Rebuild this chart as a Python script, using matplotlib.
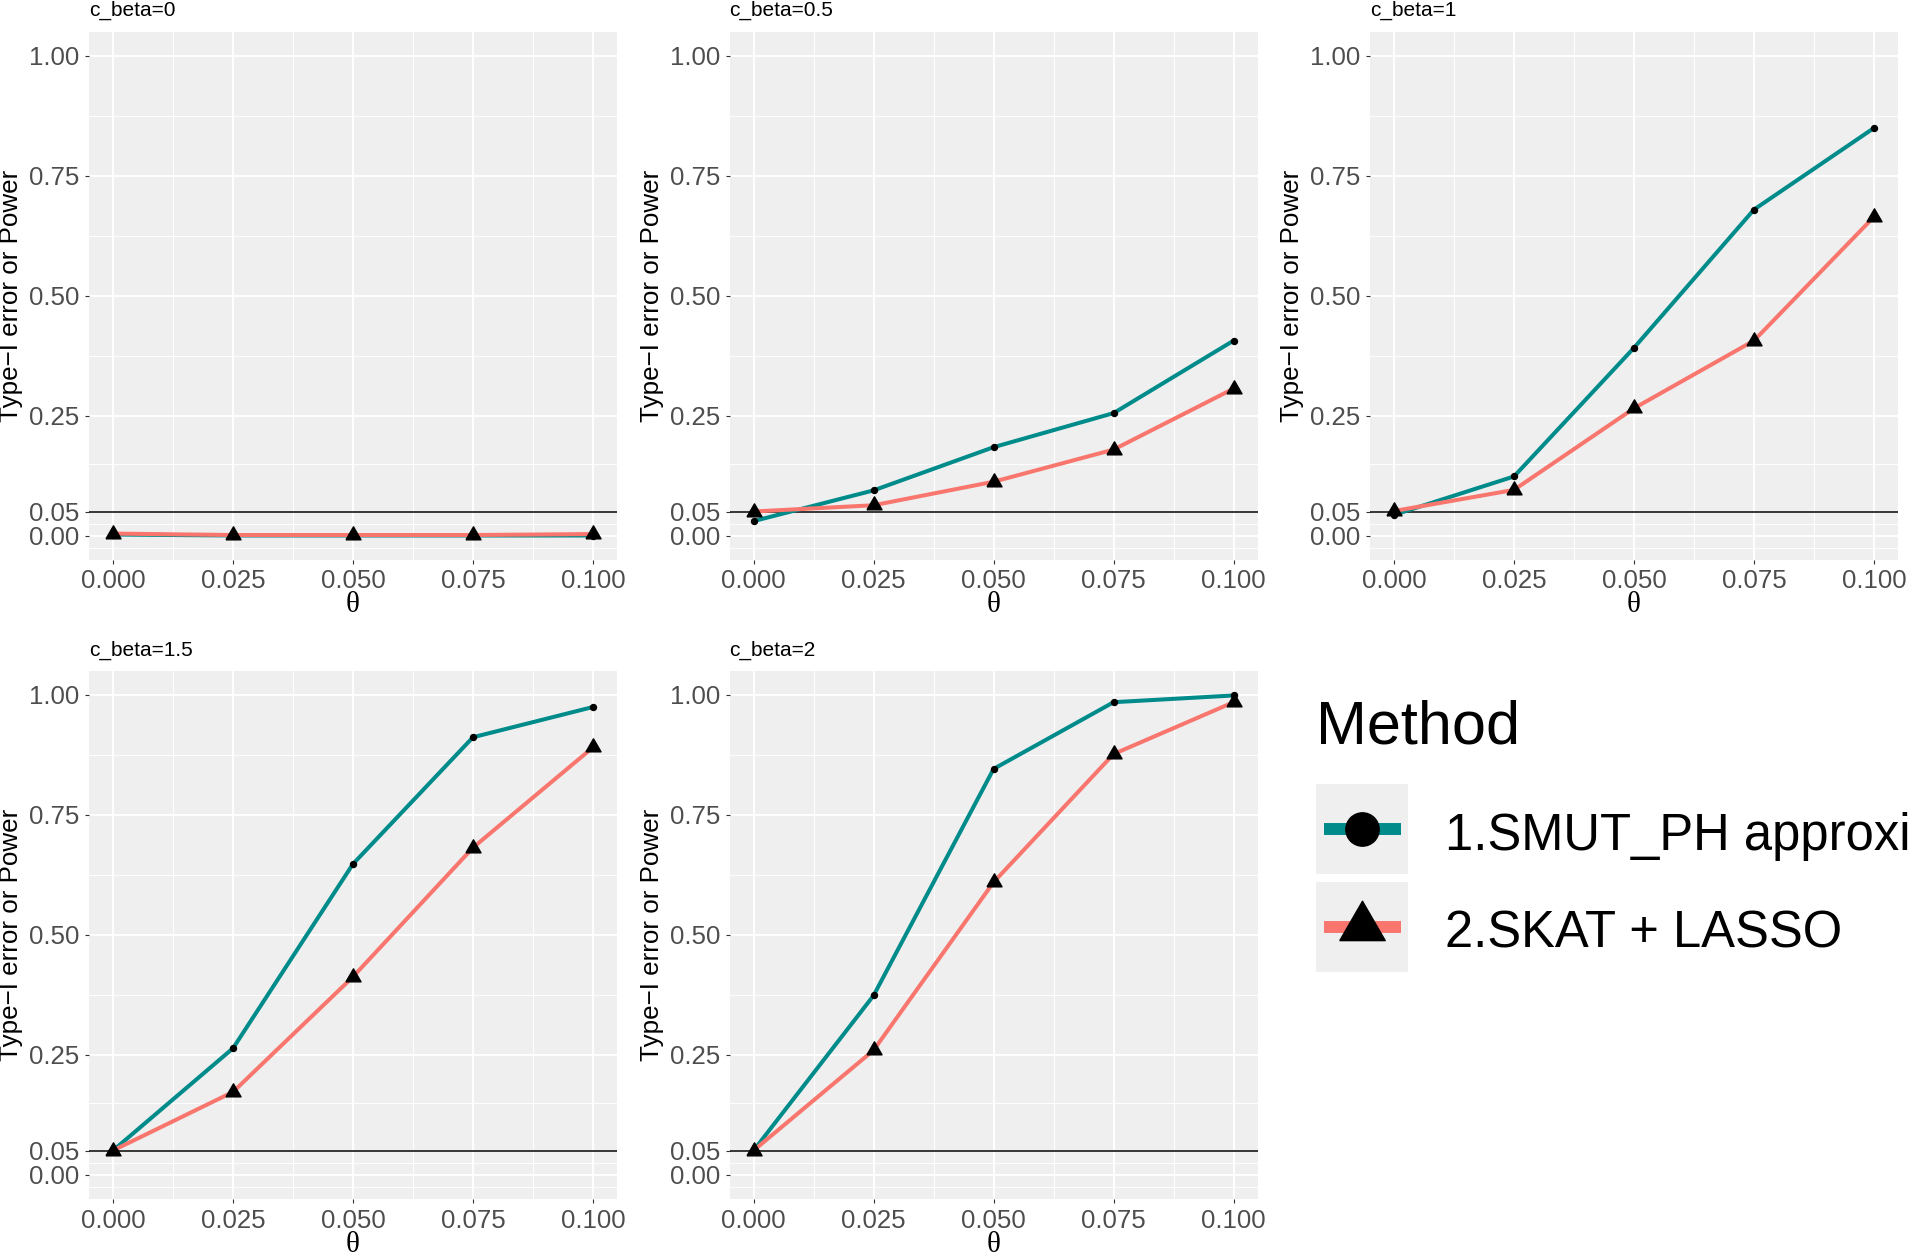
import matplotlib
matplotlib.use('Agg')
import matplotlib.pyplot as plt
from matplotlib.lines import Line2D
from matplotlib.patches import Rectangle

# data
theta = [0.0, 0.025, 0.05, 0.075, 0.1]
c_beta = ['0', '0.5', '1', '1.5', '2']
# first label is cut at the right edge in the reference
methods = ['1.SMUT_PH approxi', '2.SKAT + LASSO']

smut_cb0 = [0.002, 0.000, 0.000, 0.000, 0.000]
smut_cb05 = [0.030, 0.094, 0.184, 0.255, 0.406]
smut_cb1 = [0.043, 0.123, 0.391, 0.679, 0.849]
smut_cb15 = [0.051, 0.264, 0.648, 0.912, 0.975]
smut_cb2 = [0.051, 0.374, 0.846, 0.985, 0.999]

skat_cb0 = [0.004, 0.001, 0.001, 0.001, 0.003]
skat_cb05 = [0.050, 0.063, 0.112, 0.179, 0.306]
skat_cb1 = [0.051, 0.095, 0.265, 0.406, 0.664]
skat_cb15 = [0.051, 0.173, 0.413, 0.682, 0.891]
skat_cb2 = [0.051, 0.260, 0.610, 0.877, 0.985]

smut_all = [smut_cb0, smut_cb05, smut_cb1, smut_cb15, smut_cb2]
skat_all = [skat_cb0, skat_cb05, skat_cb1, skat_cb15, skat_cb2]

alpha_level = 0.05
y_ticks = [0.0, 0.05, 0.25, 0.5, 0.75, 1.0]
y_minor = [-0.025, 0.025, 0.15, 0.375, 0.625, 0.875]
x_minor = [0.0125, 0.0375, 0.0625, 0.0875]

TEAL = '#008B8B'
SALMON = '#F8766D'
PANEL_BG = '#EFEFEF'
TICK_COL = '#4D4D4D'

plt.rcParams['font.family'] = ['Liberation Sans', 'DejaVu Sans']

W, H = 1909, 1257
fig = plt.figure(figsize=(W / 100, H / 100), dpi=100)

# triangle with its centroid at the data point (like ggplot shape 17)
tri = [(-1, -0.577), (1, -0.577), (0, 1.155), (-1, -0.577)]

def px_axes(left, top, size=528):
    return fig.add_axes([left / W, (H - top - size) / H, size / W, size / H])

positions = [(89, 31.5), (729.6, 31.5), (1370, 31.5), (89, 671), (729.6, 671)]

for i, (left, top) in enumerate(positions):
    ax = px_axes(left, top)
    ax.set_facecolor(PANEL_BG)
    for s in ax.spines.values():
        s.set_visible(False)
    ax.set_xlim(-0.005, 0.105)
    ax.set_ylim(-0.05, 1.05)
    ax.set_xticks(theta)
    ax.set_xticklabels(['%.3f' % t for t in theta])
    ax.set_yticks(y_ticks)
    ax.set_yticklabels(['%.2f' % v for v in y_ticks])
    ax.set_xticks(x_minor, minor=True)
    ax.set_yticks(y_minor, minor=True)
    ax.grid(which='major', color='white', linewidth=1.4)
    ax.grid(which='minor', color='white', linewidth=0.7)
    ax.set_axisbelow(True)
    ax.tick_params(which='major', length=3, width=0.8, color='#333333',
                   labelsize=18.6, labelcolor=TICK_COL, pad=4)
    ax.tick_params(which='minor', length=0)

    ax.axhline(alpha_level, color='black', linewidth=1.1, zorder=2)
    ax.plot(theta, smut_all[i], color=TEAL, linewidth=2.9, zorder=3)
    ax.plot(theta, skat_all[i], color=SALMON, linewidth=2.9, zorder=3)
    ax.plot(theta, smut_all[i], linestyle='none', marker='o', markersize=4.3,
            color='black', zorder=4)
    ax.plot(theta, skat_all[i], linestyle='none', marker=tri, markersize=12.5,
            color='black', zorder=4)

    ax.set_ylabel('Type\u2212I error or Power', fontsize=18.7, color='black')
    ax.yaxis.set_label_coords(-78 / 528, 0.5)
    ax.yaxis.label.set_va('center')
    ax.set_xlabel('\u03b8', fontsize=21, family=['Liberation Serif', 'DejaVu Serif'])
    ax.xaxis.set_label_coords(0.5, -46 / 528)
    ax.xaxis.label.set_va('center')
    ax.annotate('c_beta=' + c_beta[i], xy=(0, 1), xycoords='axes fraction',
                xytext=(0, 15), textcoords='offset points', ha='left', va='center',
                fontsize=15, color='black')

# legend drawn in figure pixel space
leg = fig.add_axes([0, 0, 1, 1], facecolor='none')
leg.set_xlim(0, W)
leg.set_ylim(H, 0)
leg.axis('off')
leg.text(1316, 743, 'Method', fontsize=44, va='baseline', ha='left')
key_tops = [784, 882]
key_colors = [TEAL, SALMON]
key_markers = ['o', tri]
key_sizes = [24, 37.8]
for top, col, mk, ms, lab in zip(key_tops, key_colors, key_markers, key_sizes, methods):
    leg.add_patch(Rectangle((1316, top), 92, 90, facecolor=PANEL_BG, edgecolor='none'))
    cy = top + 45
    leg.add_line(Line2D([1324, 1401], [cy, cy], color=col, linewidth=8.6,
                        solid_capstyle='butt'))
    leg.add_line(Line2D([1362], [cy], linestyle='none', marker=mk, markersize=ms,
                        color='black'))
    leg.text(1445, top + 66, lab, fontsize=36.5, va='baseline', ha='left')

fig.savefig('out.png', dpi=100)
